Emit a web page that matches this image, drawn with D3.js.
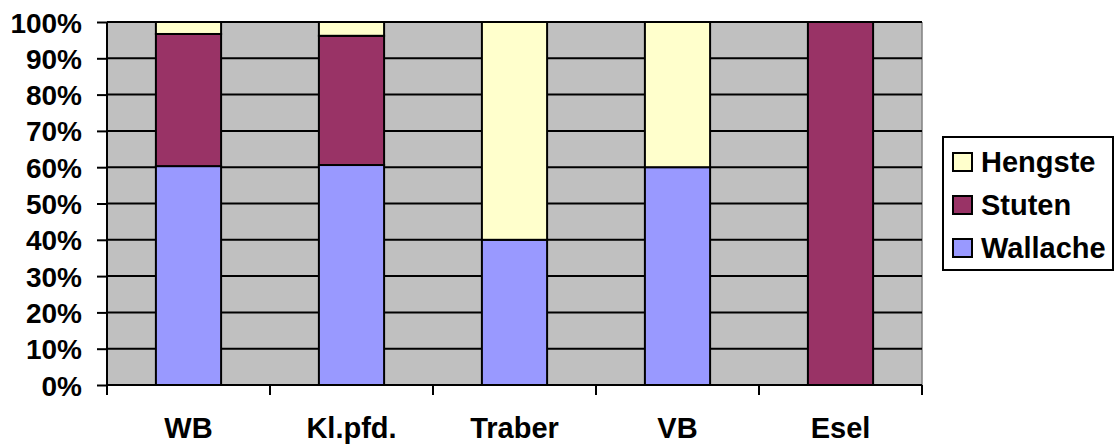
<!DOCTYPE html>
<html>
<head>
<meta charset="utf-8">
<script src="https://cdn.jsdelivr.net/npm/d3@7"></script>
<style>
  body { margin: 0; background: #fff; }
  text { font-family: "Liberation Sans", Arial, sans-serif; font-weight: bold; fill: #000; }
</style>
</head>
<body>
<div id="chart"></div>
<script>
const categories = ["WB", "Kl.pfd.", "Traber", "VB", "Esel"];
const wallache = [60.3, 60.6, 40, 60, 0];
const stuten = [36.4, 35.6, 0, 0, 100];
const hengste = [3.3, 3.8, 60, 40, 0];
const yTicks = [0, 10, 20, 30, 40, 50, 60, 70, 80, 90, 100];

const seriesKeys = ["Wallache", "Stuten", "Hengste"];
const colors = { Wallache: "#9999FF", Stuten: "#993366", Hengste: "#FFFFCC" };

const table = categories.map((c, i) => ({
  cat: c, Wallache: wallache[i], Stuten: stuten[i], Hengste: hengste[i]
}));

const W = 1115, H = 446;
const margin = { top: 22, left: 107, right: 193, bottom: 61 };
const width = W - margin.left - margin.right,
  height = H - margin.top - margin.bottom;

const svg = d3.select("#chart").append("svg")
  .attr("width", W).attr("height", H);
const g = svg.append("g")
  .attr("transform", `translate(${margin.left},${margin.top})`);

const x = d3.scaleBand().domain(categories).range([0, width]).paddingInner(0.6).paddingOuter(0.3);
const xOuter = d3.scaleBand().domain(categories).range([0, width]);
const y = d3.scaleLinear().domain([0, 100]).range([height, 0]);

// plot background
g.append("rect").attr("width", width).attr("height", height).attr("fill", "#C0C0C0");
g.append("line").attr("x1", width).attr("x2", width).attr("y1", 0).attr("y2", height)
  .attr("stroke", "#808080").attr("stroke-width", 1.5);
g.append("line").attr("x1", 0).attr("x2", width).attr("y1", 0).attr("y2", 0)
  .attr("stroke", "#808080").attr("stroke-width", 1.5);

// gridlines
g.selectAll(".grid").data(yTicks.filter(d => d > 0)).enter().append("line")
  .attr("x1", 0).attr("x2", width)
  .attr("y1", d => y(d)).attr("y2", d => y(d))
  .attr("stroke", "#000").attr("stroke-width", 2);

// stacked bars
const stack = d3.stack().keys(seriesKeys);
const layers = stack(table);
g.selectAll(".layer").data(layers).enter().append("g")
  .attr("fill", d => colors[d.key])
  .selectAll("rect").data(d => d.filter(p => p[1] - p[0] > 0)).enter().append("rect")
  .attr("x", d => x(d.data.cat))
  .attr("width", x.bandwidth())
  .attr("y", d => y(d[1]))
  .attr("height", d => y(d[0]) - y(d[1]))
  .attr("stroke", "#000").attr("stroke-width", 2);

// y axis
const yAxis = d3.axisLeft(y).tickValues(yTicks).tickFormat(d => d + "%").tickSize(10).tickPadding(15);
const ya = g.append("g").call(yAxis);
ya.select(".domain").attr("stroke", "#000").attr("stroke-width", 2).attr("d", `M0,0V${height}`);
ya.selectAll(".tick line").attr("stroke", "#000").attr("stroke-width", 2);
ya.selectAll("text").style("font-size", "28px").attr("dy", "0.36em");

// x axis
const xa = g.append("g").attr("transform", `translate(0,${height})`);
xa.append("line").attr("x1", 0).attr("x2", width).attr("stroke", "#000").attr("stroke-width", 2);
xa.selectAll(".tk").data(categories.concat(["end"])).enter().append("line")
  .attr("x1", (d, i) => i * xOuter.step()).attr("x2", (d, i) => i * xOuter.step())
  .attr("y1", 0).attr("y2", 10).attr("stroke", "#000").attr("stroke-width", 2);
xa.selectAll(".lbl").data(categories).enter().append("text")
  .attr("x", d => xOuter(d) + xOuter.bandwidth() / 2)
  .attr("y", 53)
  .attr("text-anchor", "middle")
  .style("font-size", "29px")
  .text(d => d);

// legend
const lg = svg.append("g").attr("transform", "translate(943,137)");
lg.append("rect").attr("width", 170).attr("height", 133)
  .attr("fill", "#fff").attr("stroke", "#000").attr("stroke-width", 2);
const legendKeys = seriesKeys.slice().reverse();
const items = lg.selectAll(".item").data(legendKeys).enter().append("g")
  .attr("transform", (d, i) => `translate(10,${25 + i * 43})`);
items.append("rect").attr("x", 0).attr("y", -9).attr("width", 19).attr("height", 18)
  .attr("fill", d => colors[d]).attr("stroke", "#000").attr("stroke-width", 2);
items.append("text").attr("x", 28).attr("dy", "0.36em")
  .style("font-size", "29px").text(d => d);
</script>
</body>
</html>
